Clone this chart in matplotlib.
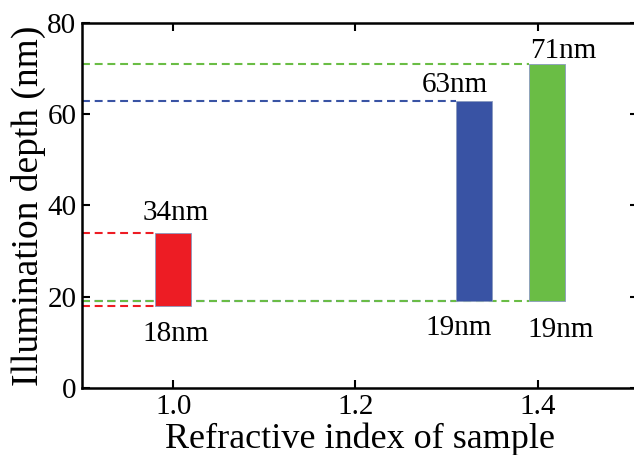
import matplotlib.pyplot as plt
import numpy as np

plt.rcParams['font.family'] = 'Liberation Serif'

# refractive index of sample and illumination depth range (nm)
n_sample = [1.0, 1.33, 1.41]
depth_low = [18, 19, 19]
depth_high = [34, 63, 71]
bar_colors = ['#ED1C24', '#3953A4', '#6ABD45']
low_labels = ['18nm', '19nm', '19nm']
high_labels = ['34nm', '63nm', '71nm']

bar_width = 0.04
x_left, x_right = 0.9, 1.51

# label offsets in points (dx, dy)
high_off = [(1.5, 9.5), (-13.5, 6), (12, 4.5)]
low_off = [(2, -25.5), (-11, -24.5), (10, -26)]

fig = plt.figure(figsize=(6.34, 4.55), dpi=100)
ax = fig.add_axes([82 / 634, 1 - 388 / 455, (638 - 82) / 634, (388 - 23) / 455])

low = np.array(depth_low)
high = np.array(depth_high)
ax.bar(n_sample, high - low, bottom=low, width=bar_width, color=bar_colors,
       edgecolor='#8a9abf', linewidth=0.6, zorder=3)

# dashed guide lines from the axis to the bars (red, blue, then green on top)
for x, lo, hi, c in zip(n_sample, depth_low, depth_high, bar_colors):
    xe = x - bar_width / 2
    ax.hlines([lo, hi], x_left, xe, colors=c, linestyles=(0, (3.8, 2.3)),
              linewidth=1.5, zorder=2)

for x, lab, hi, (dx, dy) in zip(n_sample, high_labels, depth_high, high_off):
    ax.annotate(lab, (x, hi), xytext=(dx, dy), textcoords='offset points',
                ha='center', va='baseline', fontsize=21)
for x, lab, lo, (dx, dy) in zip(n_sample, low_labels, depth_low, low_off):
    ax.annotate(lab, (x, lo), xytext=(dx, dy), textcoords='offset points',
                ha='center', va='baseline', fontsize=21)

ax.set_xlim(x_left, x_right)
ax.set_ylim(0, 80)
ax.set_xticks([1.0, 1.2, 1.4])
ax.set_xticklabels(['1.0', '1.2', '1.4'])
ax.set_yticks([0, 20, 40, 60, 80])
ax.tick_params(direction='in', top=True, right=True, length=6, width=1.5,
               labelsize=21, pad=4)
for s in ax.spines.values():
    s.set_linewidth(1.8)
ax.spines['right'].set_visible(False)

ax.set_xlabel('Refractive index of sample', fontsize=26, labelpad=2)
ax.set_ylabel('Illumination depth (nm)', fontsize=27, labelpad=1)

fig.savefig('out.png', dpi=100)
